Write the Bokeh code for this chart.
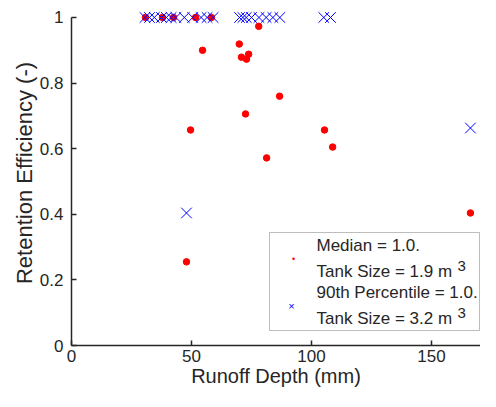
from bokeh.plotting import figure
from bokeh.models import Label, BoxAnnotation, FixedTicker, Range1d, NumeralTickFormatter
from bokeh.embed import file_html
from bokeh.resources import INLINE

# Median (tank size 1.9 m3) retention efficiency vs runoff depth
median_x = [30.8, 37.9, 42.5, 51.7, 58.3,
            47.9, 49.6, 54.6, 69.9, 70.8, 72.9, 73.8, 72.5, 78.0, 81.3, 86.7,
            105.4, 108.8, 166.2]
median_y = [1.0, 1.0, 1.0, 1.0, 1.0,
            0.255, 0.657, 0.900, 0.919, 0.879, 0.873, 0.888, 0.706, 0.973, 0.572, 0.760,
            0.657, 0.605, 0.404]

# 90th percentile (tank size 3.2 m3)
p90_x = [30.6, 32.5, 34.5, 37.5, 39.5, 41.5, 43.5, 47.0, 50.5, 54.0, 56.5, 59.0,
         70.0, 71.4, 72.8, 75.0, 78.1, 81.1, 83.9, 86.8, 105.1, 107.9,
         47.9, 166.2]
p90_y = [1.0] * 22 + [0.404, 0.663]

x_ticks = [0, 50, 100, 150]
y_ticks = [0, 0.2, 0.4, 0.6, 0.8, 1.0]

FONT = "Liberation Sans"
TXT = "#262626"

p = figure(width=480, height=391, output_backend="svg", toolbar_location=None,
           x_range=Range1d(0, 170.4), y_range=Range1d(0, 1.0518),
           min_border_left=71, min_border_right=0, min_border_top=0,
           min_border_bottom=46)
p.outline_line_color = None
p.grid.visible = False
p.background_fill_color = "white"
p.border_fill_color = "white"

p.scatter(median_x, median_y, marker="circle", size=6.5, fill_color="red",
          line_color="red")
p.scatter(p90_x, p90_y, marker="x", size=15, line_color="blue", line_width=1)

for ax in (p.xaxis[0], p.yaxis[0]):
    ax.axis_line_color = TXT
    ax.axis_line_width = 1.5
    ax.major_tick_line_color = TXT
    ax.major_tick_line_width = 1.5
    ax.major_tick_in = 5
    ax.major_tick_out = 0
    ax.minor_tick_line_color = None
    ax.major_label_text_font = FONT
    ax.major_label_text_font_size = "17px"
    ax.major_label_text_color = TXT
    ax.axis_label_text_font = FONT
    ax.axis_label_text_font_style = "normal"
    ax.axis_label_text_color = TXT

p.xaxis.axis_label_text_font_size = "20px"
p.yaxis.axis_label_text_font_size = "22px"
p.xaxis.ticker = FixedTicker(ticks=x_ticks)
p.yaxis.ticker = FixedTicker(ticks=y_ticks)
p.xaxis.formatter = NumeralTickFormatter(format="0.[0]")
p.yaxis.formatter = NumeralTickFormatter(format="0.[0]")
p.yaxis.bounds = (0, 1)
p.xaxis.axis_label = "Runoff Depth (mm)"
p.yaxis.axis_label = "Retention Efficiency (-)"
p.xaxis.major_label_standoff = 4
p.yaxis.major_label_standoff = 8
p.xaxis.axis_label_standoff = 0
p.yaxis.axis_label_standoff = 0

# legend (manual), positions in screen px relative to the plot frame
p.add_layout(BoxAnnotation(left=198, right=408, top=113, bottom=15,
                           left_units="screen", right_units="screen",
                           top_units="screen", bottom_units="screen",
                           fill_color="white", fill_alpha=1.0,
                           line_color=TXT, line_width=1, level="overlay"))

def lab(x, y, text, size="17px", color=TXT, align="left"):
    p.add_layout(Label(x=x, y=y, x_units="screen", y_units="screen", text=text,
                       text_font=FONT, text_font_size=size, text_color=color,
                       text_baseline="middle", text_align=align, level="overlay"))

lab(245, 100, "Median = 1.0.")
lab(245, 74, "Tank Size = 1.9 m")
lab(386, 80, "3", size="15px")
lab(245, 53, "90th Percentile = 1.0.")
lab(245, 27, "Tank Size = 3.2 m")
lab(386, 33, "3", size="15px")
lab(222, 87, "•", size="9px", color="red", align="center")
lab(220, 40, "×", size="11px", color="blue", align="center")

open("out.html", "w").write(file_html(p, INLINE))
